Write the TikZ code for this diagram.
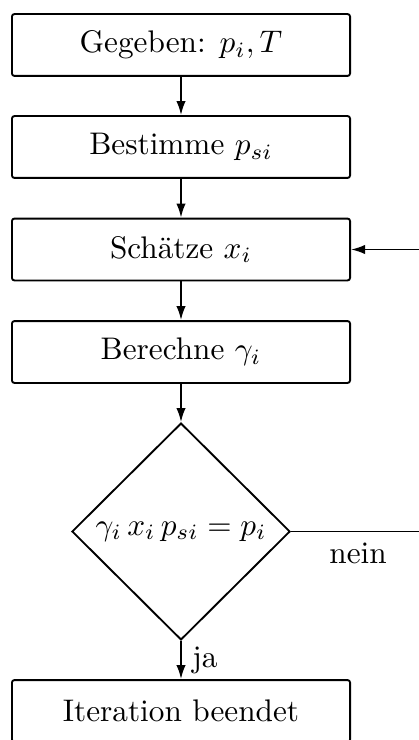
\documentclass[tikz,border=0pt]{standalone}
\usetikzlibrary{shapes.geometric,arrows.meta}
\begin{document}
\begin{tikzpicture}[x=0.32pt,y=-0.32pt,line width=0.6pt,
  procbox/.style={draw, rounded corners=0.8pt, minimum width=108.2pt,
    minimum height=19.8pt, inner sep=0pt},
  decide/.style={draw, diamond, aspect=1, minimum width=69.8pt,
    minimum height=69.4pt, inner sep=0pt},
  flow/.style={-{Latex[length=4.5pt,width=3pt]}}]
\useasboundingbox (0,0) rectangle (419,740);
\clip (0,0) rectangle (419,740);
% process steps
\node[procbox] (given) at (181,45)    {Gegeben: $p_i, T$};
\node[procbox] (psat)  at (181,147)   {Bestimme $p_{si}$};
\node[procbox] (guess) at (181,249.5) {Schätze $x_i$};
\node[procbox] (gamma) at (181,352)   {Berechne $\gamma_i$};
\node[decide]  (check) at (181,531.5) {$\gamma_i\,x_i\,p_{si} = p_i$};
\node[procbox] (done)  at (181,711)   {Iteration beendet};
% return path of the iteration loop
\coordinate (loopdown) at (440,531.5);
\coordinate (loopup)   at (440,249.5);
% connectors
\draw[flow] (given) -- (psat);
\draw[flow] (psat) -- (guess);
\draw[flow] (guess) -- (gamma);
\draw[flow] (gamma) -- (check);
\draw[flow] (check.south) -- node[right]{ja} (done.north);
\draw[flow] (check.east) -- node[below, pos=0.45]{nein} (loopdown)
  -- (loopup) -- (guess.east);
\end{tikzpicture}
\end{document}
